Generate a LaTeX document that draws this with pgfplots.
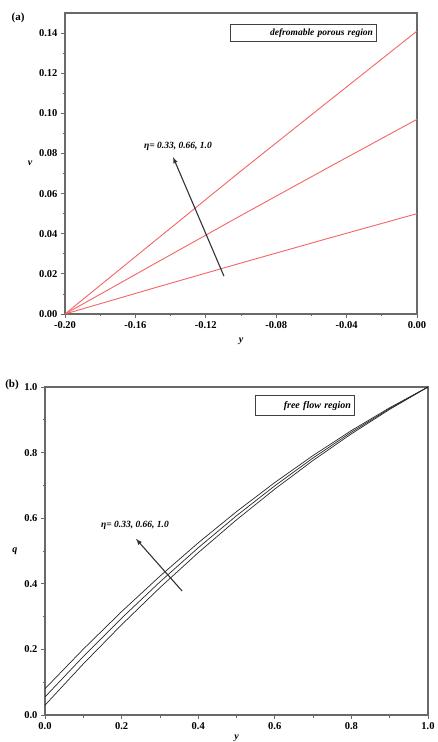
\documentclass[border=0pt]{standalone}
\usepackage{fontspec}
\setmainfont{Liberation Serif}
\usepackage{pgfplots}
\pgfplotsset{compat=1.18}
\definecolor{redline}{RGB}{245,100,100}
\definecolor{framec}{RGB}{105,105,105}
\begin{document}
\begin{tikzpicture}
\useasboundingbox (0pt,0pt) rectangle (437pt,742pt);
\pgfplotsset{every axis/.append style={
  scale only axis,
  axis line style={framec, line width=1.1pt},
  tick style={framec, line width=0.8pt},
  major tick length=4pt, minor tick length=2.5pt,
  tick align=outside, xtick pos=left, ytick pos=left,
  ticklabel style={font=\fontsize{10.5}{12}\selectfont\bfseries},
  /pgf/number format/assume math mode=true,
  label style={font=\fontsize{10}{12}\selectfont\bfseries\itshape},
  ylabel style={rotate=-90},
  clip=false}}
% ---------- (a) ----------
\begin{axis}[at={(65pt,428pt)}, anchor=south west, width=352pt, height=301pt,
  xmin=-0.2, xmax=0, ymin=0, ymax=0.15,
  xtick={-0.20,-0.16,-0.12,-0.08,-0.04,0},
  ytick={0,0.02,0.04,0.06,0.08,0.10,0.12,0.14},
  minor x tick num=1, minor y tick num=1,
  xticklabel style={/pgf/number format/.cd, fixed, fixed zerofill, precision=2},
  yticklabel style={/pgf/number format/.cd, fixed, fixed zerofill, precision=2},
  xlabel={y}, ylabel={v},
  xlabel style={yshift=-2pt}, ylabel style={xshift=0pt}]
\addplot[redline, line width=0.9pt] coordinates {(-0.2,0) (-0.15,0.0357) (-0.10,0.0713) (-0.05,0.1062) (0,0.141)};
\addplot[redline, line width=0.9pt] coordinates {(-0.2,0) (-0.15,0.0246) (-0.10,0.0491) (-0.05,0.0732) (0,0.097)};
\addplot[redline, line width=0.9pt] coordinates {(-0.2,0) (-0.15,0.0128) (-0.10,0.0254) (-0.05,0.0378) (0,0.050)};
\draw[-latex, line width=1.1pt, black!80] (axis cs:-0.1097,0.0189) -- (axis cs:-0.1386,0.0782);
\node[font=\fontsize{9.5}{11}\selectfont\bfseries\itshape] at (axis cs:-0.1358,0.0835) {η= 0.33, 0.66, 1.0};
\end{axis}
% ---------- (b) ----------
\begin{axis}[at={(45pt,27pt)}, anchor=south west, width=383pt, height=328pt,
  xmin=0, xmax=1, ymin=0, ymax=1,
  xtick={0,0.2,0.4,0.6,0.8,1.0},
  ytick={0,0.2,0.4,0.6,0.8,1.0},
  minor x tick num=1, minor y tick num=1,
  xticklabel style={/pgf/number format/.cd, fixed, fixed zerofill, precision=1},
  yticklabel style={/pgf/number format/.cd, fixed, fixed zerofill, precision=1},
  xlabel={y}, ylabel={q},
  xlabel style={yshift=2pt}]
\addplot[black!85, line width=0.7pt] coordinates {(0,0.030) (0.1,0.1558) (0.2,0.2752) (0.3,0.3882) (0.4,0.4948) (0.5,0.5950) (0.6,0.6888) (0.7,0.7762) (0.8,0.8572) (0.9,0.9318) (1.0,1.0)};
\addplot[black!85, line width=0.7pt] coordinates {(0,0.055) (0.1,0.1783) (0.2,0.2952) (0.3,0.4057) (0.4,0.5098) (0.5,0.6075) (0.6,0.6988) (0.7,0.7837) (0.8,0.8622) (0.9,0.9343) (1.0,1.0)};
\addplot[black!85, line width=0.7pt] coordinates {(0,0.080) (0.1,0.2008) (0.2,0.3152) (0.3,0.4232) (0.4,0.5248) (0.5,0.6200) (0.6,0.7088) (0.7,0.7912) (0.8,0.8672) (0.9,0.9368) (1.0,1.0)};
\draw[-latex, line width=1.1pt, black!80] (axis cs:0.358,0.378) -- (axis cs:0.2376,0.537);
\node[font=\fontsize{9.5}{11}\selectfont\bfseries\itshape] at (axis cs:0.235,0.578) {η= 0.33, 0.66, 1.0};
\end{axis}
% legends and panel labels
\node[draw=black!75, line width=1pt, minimum width=146pt, minimum height=17pt, inner sep=2pt, text width=140pt, align=right,
  font=\fontsize{9.5}{11}\selectfont\bfseries\itshape] at (303pt,708.5pt) {defromable porous region};
\node[draw=black!75, line width=1pt, minimum width=99pt, minimum height=20pt, inner sep=2pt, text width=93pt, align=right,
  font=\fontsize{10}{12}\selectfont\bfseries\itshape] at (304.5pt,336pt) {free flow region};
\node[font=\fontsize{11}{13}\selectfont\bfseries] at (18pt,724pt) {(a)};
\node[font=\fontsize{11}{13}\selectfont\bfseries] at (12pt,357pt) {(b)};
\end{tikzpicture}
\end{document}
